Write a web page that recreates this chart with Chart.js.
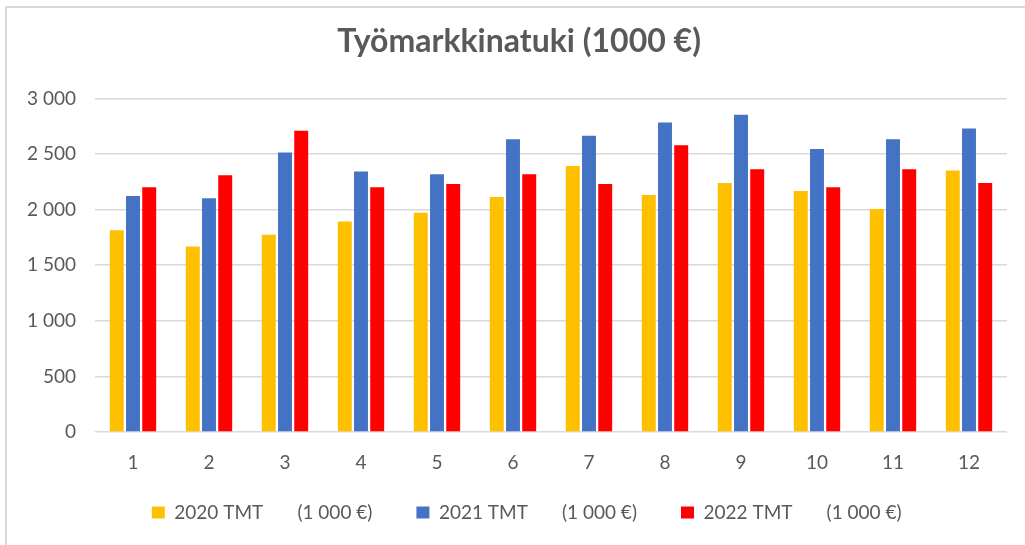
<!DOCTYPE html>
<html>
<head>
<meta charset="utf-8">
<script src="https://cdn.jsdelivr.net/npm/chart.js@4"></script>
<style>
  html, body { margin:0; padding:0; background:#fff; }
  #wrap { position:relative; width:1025px; height:545px; overflow:hidden; }
  #frame { position:absolute; left:5px; top:6px; width:1030px; height:560px; border-left:2px solid #d9d9d9; border-top:2px solid #d9d9d9; box-sizing:border-box; }
  canvas { position:absolute; left:0; top:0; }
</style>
</head>
<body>
<div id="wrap">
  <div id="frame"></div>
  <canvas id="c" width="1025" height="545"></canvas>
</div>
<script>
const categories = ['1','2','3','4','5','6','7','8','9','10','11','12'];
const tmt2020 = [1815, 1668, 1774, 1894, 1972, 2113, 2393, 2131, 2239, 2167, 2005, 2351];
const tmt2021 = [2122, 2101, 2513, 2342, 2318, 2633, 2663, 2784, 2853, 2546, 2633, 2729];
const tmt2022 = [2200, 2309, 2708, 2200, 2230, 2318, 2230, 2579, 2363, 2200, 2363, 2239];
const seriesNames = ['2020 TMT', '2021 TMT', '2022 TMT'];
const seriesUnit = '(1 000 €)';
const titleText = 'Työmarkkinatuki (1000 €)';

const FONT = 'Lato, "Open Sans", sans-serif';
const LEG_SIZE = 19;
const TITLE_SIZE = 32;
const fmt = v => String(v).replace(/\B(?=(\d{3})+(?!\d))/g, ' ');

// pad texts with spaces (Excel-like wide gaps / offsets)
const mctx = document.createElement('canvas').getContext('2d');
const padTo = (s, w, font) => { mctx.font = font; while (mctx.measureText(s).width < w) s += ' '; return s; };
const legFont = LEG_SIZE + 'px ' + FONT;
const legendTargets = [232, 228, 244];
const legendText = (name, i) => padTo(padTo(name + ' ', 122, legFont) + seriesUnit, legendTargets[i], legFont);
const titleFont = 'bold ' + TITLE_SIZE + 'px ' + FONT;
mctx.font = titleFont;
const spaceW = mctx.measureText(' ').width;
const titleLabel = ' '.repeat(Math.round(32 / spaceW)) + titleText;

new Chart(document.getElementById('c'), {
  type: 'bar',
  data: {
    labels: categories,
    datasets: [
      { label: seriesNames[0], data: tmt2020, backgroundColor: '#FFC000' },
      { label: seriesNames[1], data: tmt2021, backgroundColor: '#4472C4' },
      { label: seriesNames[2], data: tmt2022, backgroundColor: '#FF0000' }
    ]
  },
  options: {
    responsive: false,
    animation: false,
    devicePixelRatio: 1,
    layout: { padding: { left: 0, right: 18, top: 0, bottom: 13 } },
    datasets: { bar: { categoryPercentage: 0.64, barPercentage: 0.86 } },
    plugins: {
      title: {
        display: true, text: titleLabel, color: '#595959',
        font: { family: FONT, size: TITLE_SIZE, weight: 'bold' },
        padding: { top: 22, bottom: 38 }
      },
      legend: {
        position: 'bottom',
        fullSize: false,
        labels: {
          color: '#595959', font: { family: FONT, size: LEG_SIZE },
          boxWidth: 13, boxHeight: 12, padding: 10,
          generateLabels: chart => Chart.defaults.plugins.legend.labels.generateLabels(chart)
            .map((it, i) => Object.assign(it, { text: legendText(it.text, i), lineWidth: 0 }))
        }
      },
      tooltip: { enabled: false }
    },
    scales: {
      x: {
        afterFit: s => { s.height = 61; },
        grid: { display: false, drawTicks: false },
        border: { display: false },
        ticks: { color: '#595959', font: { family: FONT, size: 19 }, padding: 19 }
      },
      y: {
        min: 0, max: 3000,
        afterFit: s => { s.width = 95; },
        grid: { color: '#d9d9d9', lineWidth: 1.5, drawTicks: false },
        border: { display: false },
        ticks: { stepSize: 500, color: '#595959', font: { family: FONT, size: 19 }, padding: 19, callback: v => fmt(v) }
      }
    }
  }
});
</script>
</body>
</html>
